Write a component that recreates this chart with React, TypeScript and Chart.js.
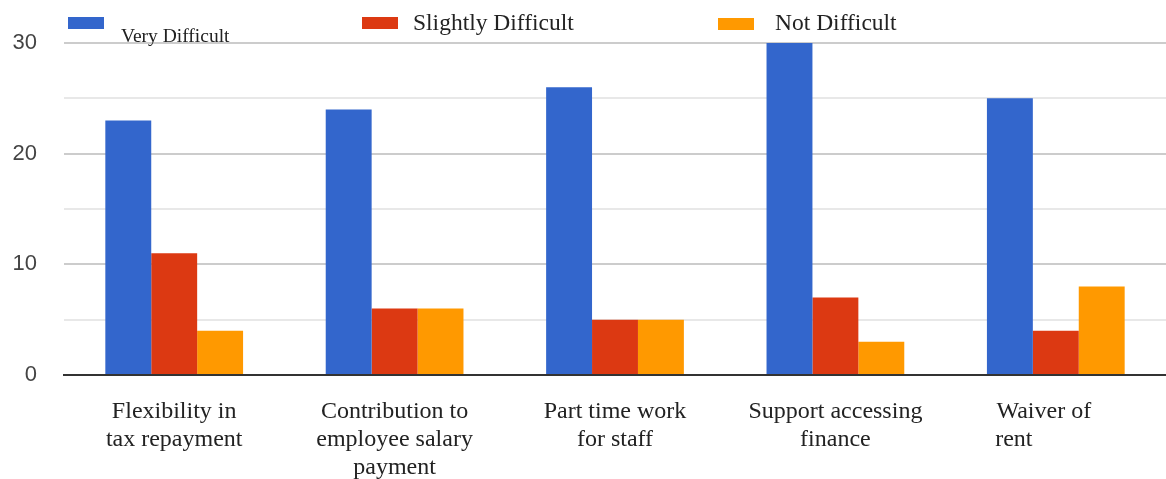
import React, { useEffect, useRef } from "react";
import { Chart, registerables } from "chart.js";

Chart.register(...registerables);

const categories: string[][] = [
  ["Flexibility in", "tax repayment"],
  ["Contribution to", "employee salary", "payment"],
  ["Part time work", "for staff"],
  ["Support accessing", "finance"],
  ["Waiver of    ", "rent              "],
];
const seriesNames = ["Very Difficult", "Slightly Difficult", "Not Difficult"];
const veryDifficult = [23, 24, 26, 30, 25];
const slightlyDifficult = [11, 6, 5, 7, 4];
const notDifficult = [4, 6, 5, 3, 8];
const colors = ["#3366cc", "#dc3912", "#ff9900"];

const legendPlugin = {
  id: "customLegend",
  afterDraw(chart: any) {
    const ctx = chart.ctx;
    ctx.save();
    const items = [
      { box: [68, 17, 36, 12], text: [121, 42], font: "19.5px 'Liberation Serif', serif" },
      { box: [362, 17, 36, 12], text: [413, 30], font: "23.5px 'Liberation Serif', serif" },
      { box: [718, 18, 36, 12], text: [775, 30], font: "23.5px 'Liberation Serif', serif" },
    ];
    items.forEach((it, i) => {
      ctx.fillStyle = colors[i];
      ctx.fillRect(it.box[0], it.box[1], it.box[2], it.box[3]);
      ctx.fillStyle = "#222";
      ctx.font = it.font;
      ctx.textBaseline = "alphabetic";
      ctx.textAlign = "left";
      ctx.fillText(seriesNames[i], it.text[0], it.text[1]);
    });
    ctx.restore();
  },
};

export default function App() {
  const ref = useRef<HTMLCanvasElement>(null);
  useEffect(() => {
    document.body.style.margin = "0";
    const chart = new Chart(ref.current!, {
      type: "bar",
      data: {
        labels: categories,
        datasets: [
          { label: seriesNames[0], data: veryDifficult, backgroundColor: colors[0] },
          { label: seriesNames[1], data: slightlyDifficult, backgroundColor: colors[1] },
          { label: seriesNames[2], data: notDifficult, backgroundColor: colors[2] },
        ],
      },
      options: {
        animation: false,
        responsive: false,
        maintainAspectRatio: false,
        layout: { padding: { top: 43, right: 0, left: 0, bottom: 0 } },
        plugins: { legend: { display: false }, tooltip: { enabled: false } },
        datasets: { bar: { categoryPercentage: 0.625, barPercentage: 1 } },
        scales: {
          x: {
            grid: { display: false },
            border: { display: true, color: "#333", width: 2 },
            ticks: {
              color: "#222",
              font: { family: "'Liberation Serif', serif", size: 24, lineHeight: 1.17 },
              padding: 15,
              maxRotation: 0,
              autoSkip: false,
            },
            afterFit(scale: any) {
              scale.height = 104;
            },
          },
          y: {
            min: 0,
            max: 30,
            border: { display: false },
            grid: {
              color: (c: any) => (c.tick && c.tick.value % 10 === 0 ? "#cccccc" : "#e8e8e8"),
              lineWidth: 2,
              drawTicks: false,
            },
            ticks: {
              stepSize: 5,
              color: "#444",
              font: { family: "'Liberation Sans', Arial, sans-serif", size: 22 },
              padding: 27,
              callback: (v: any) => (v % 10 === 0 ? String(v) : ""),
            },
            afterFit(scale: any) {
              scale.width = 64;
            },
          },
        },
      },
      plugins: [legendPlugin],
    });
    return () => chart.destroy();
  }, []);
  return <canvas ref={ref} width={1166} height={479} style={{ display: "block" }} />;
}
